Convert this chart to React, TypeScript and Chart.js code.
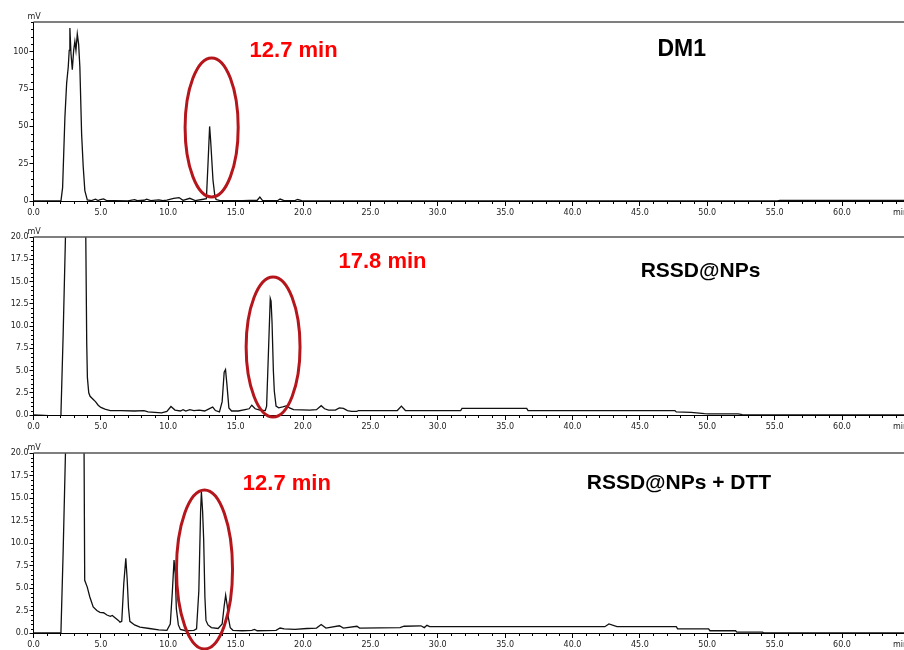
import React, { useEffect, useRef } from 'react';
import { Chart, registerables } from 'chart.js';

Chart.register(...registerables);

// ---------- data (retention time in min, signal in mV) ----------
const dm1Time = [0, 1.0, 2.0, 2.04, 2.16, 2.33, 2.46, 2.58, 2.65, 2.70, 2.78, 2.88, 2.98, 3.07, 3.15, 3.25, 3.35, 3.44, 3.57, 3.69, 3.81, 3.99, 4.3, 4.6, 4.8, 4.95, 5.2, 5.45, 6.0, 7.0, 7.5, 7.7, 8.2, 8.4, 8.7, 9.3, 9.6, 9.9, 10.4, 10.8, 11.1, 11.6, 12.0, 12.5, 12.83, 12.95, 13.07, 13.15, 13.32, 13.45, 13.55, 13.8, 14.5, 15.5, 16.6, 16.8, 17.0, 18.1, 18.3, 18.6, 19.4, 19.6, 19.9, 20.5, 55.2, 55.4, 64.6];
const dm1Signal = [0, 0, 0, 0.3, 9, 56, 79, 90, 101, 116, 99, 88, 101, 107, 101, 112, 105, 90, 45, 23, 7, 0.7, 0.3, 1.2, 0.3, 1.0, 1.4, 0.2, 0.3, 0.1, 0.9, 0.2, 0.5, 1.2, 0.3, 0.8, 0.2, 0.6, 1.8, 2.3, 0.4, 1.8, 0.3, 1.0, 1.5, 25, 50, 40, 14, 4, 1, 0.4, 0.2, 0.2, 0.5, 2.6, 0.3, 0.2, 1.3, 0.2, 0.3, 1.0, 0.3, 0, 0, 0.4, 0.4];

const npTime = [0, 0.8, 1.5, 2.0, 2.04, 2.2, 2.38, 2.6, 2.9, 3.2, 3.5, 3.75, 3.88, 3.95, 4.0, 4.1, 4.2, 4.4, 4.6, 4.8, 5.0, 5.3, 5.7, 6.5, 7.5, 8.2, 8.5, 9.0, 9.5, 9.9, 10.2, 10.5, 10.9, 11.1, 11.3, 11.6, 11.9, 12.3, 12.7, 13.1, 13.3, 13.5, 13.8, 14.0, 14.15, 14.25, 14.35, 14.5, 14.7, 15.2, 15.7, 16.0, 16.2, 16.45, 16.8, 17.2, 17.3, 17.43, 17.57, 17.63, 17.7, 17.8, 17.87, 18.0, 18.2, 18.5, 18.8, 19.0, 19.3, 20.5, 21.0, 21.35, 21.6, 21.9, 22.4, 22.7, 23.0, 23.3, 23.6, 24.0, 24.1, 27.0, 27.3, 27.6, 31.7, 31.8, 36.6, 36.7, 47.6, 47.7, 48.8, 49.8, 50.1, 52.3, 52.6, 53.6, 55.0, 64.6];
const npSignal = [0, -0.05, -0.1, -0.05, 0.3, 9, 20.5, 45, 90, 105, 80, 40, 20, 8, 4.2, 2.5, 2.1, 1.8, 1.5, 1.1, 0.85, 0.65, 0.5, 0.5, 0.45, 0.5, 0.35, 0.3, 0.25, 0.4, 0.95, 0.55, 0.45, 0.6, 0.45, 0.6, 0.5, 0.55, 0.45, 0.75, 0.9, 0.5, 0.35, 1.5, 4.8, 5.1, 3.5, 0.8, 0.45, 0.45, 0.6, 0.7, 1.1, 0.7, 0.55, 0.5, 1.0, 6.8, 13.1, 12.8, 10.5, 5.0, 2.7, 1.0, 0.8, 0.9, 1.05, 0.8, 0.6, 0.55, 0.6, 1.05, 0.7, 0.55, 0.55, 0.8, 0.75, 0.5, 0.4, 0.4, 0.5, 0.5, 1.0, 0.5, 0.5, 0.75, 0.75, 0.5, 0.5, 0.35, 0.3, 0.15, 0.12, 0.12, 0.05, 0, 0, 0];

const dttTime = [0, 2.0, 2.04, 2.2, 2.38, 2.6, 3.0, 3.3, 3.55, 3.72, 3.8, 3.99, 4.18, 4.43, 4.7, 4.93, 5.2, 5.45, 5.7, 5.85, 6.05, 6.3, 6.42, 6.55, 6.7, 6.85, 6.95, 7.05, 7.15, 7.5, 7.9, 8.6, 9.3, 9.9, 10.15, 10.3, 10.43, 10.52, 10.6, 10.75, 10.9, 11.3, 11.9, 12.1, 12.27, 12.4, 12.46, 12.55, 12.63, 12.72, 12.8, 12.95, 13.2, 13.7, 14.0, 14.15, 14.26, 14.38, 14.46, 14.6, 14.8, 15.5, 16.2, 16.4, 16.6, 18.0, 18.3, 18.6, 19.4, 20.3, 21.0, 21.35, 21.7, 22.7, 23.0, 24.0, 24.2, 27.2, 27.5, 28.75, 29.0, 29.2, 29.4, 42.4, 42.7, 43.3, 47.7, 47.8, 50.1, 50.2, 52.1, 52.2, 54.1, 54.2, 64.6];
const dttSignal = [0, 0, 0.3, 9, 20.5, 60, 100, 90, 40, 30, 5.85, 5.1, 4.0, 2.9, 2.5, 2.3, 2.25, 2.0, 1.85, 1.95, 1.7, 1.4, 1.2, 1.3, 5.5, 8.3, 6.0, 2.8, 1.3, 0.9, 0.65, 0.5, 0.35, 0.3, 1.0, 4.5, 8.1, 6.5, 2.7, 0.9, 0.4, 0.25, 0.3, 0.45, 4.7, 13.5, 15.7, 13.5, 10.3, 4.0, 1.4, 0.9, 0.6, 0.5, 1.0, 3.0, 4.2, 3.0, 1.7, 0.6, 0.3, 0.25, 0.3, 0.4, 0.25, 0.3, 0.55, 0.45, 0.4, 0.5, 0.55, 0.95, 0.55, 0.8, 0.55, 0.75, 0.55, 0.6, 0.75, 0.8, 0.6, 0.85, 0.7, 0.7, 1.0, 0.7, 0.7, 0.45, 0.45, 0.25, 0.25, 0.1, 0.1, 0, 0];

const xTickLabels = ['0.0', '5.0', '10.0', '15.0', '20.0', '25.0', '30.0', '35.0', '40.0', '45.0', '50.0', '55.0', '60.0'];

const X_MAX = 64.6;

type Note = { label: string; t: number; v: number; color: string; size: number };
type Ring = { t: number; v: number; dt: number; dv: number };
type Panel = {
  time: number[];
  signal: number[];
  yMax: number;
  yStep: number;
  yMinor: number;
  yDecimals: number;
  top: number;
  height: number;
  padTop: number;
  xAxisHeight: number;
  notes: Note[];
  ring: Ring;
};

const RED = '#ff0000';
const panels: Panel[] = [
  {
    time: dm1Time, signal: dm1Signal, yMax: 120, yStep: 25, yMinor: 5, yDecimals: 0,
    top: 0, height: 226, padTop: 22, xAxisHeight: 25,
    notes: [
      { label: '12.7 min', t: 19.3, v: 100.6, color: RED, size: 22 },
      { label: 'DM1', t: 48.1, v: 101.2, color: '#000', size: 23 },
    ],
    ring: { t: 13.22, v: 49.3, dt: 1.97, dv: 46.6 },
  },
  {
    time: npTime, signal: npSignal, yMax: 20, yStep: 2.5, yMinor: 0.5, yDecimals: 1,
    top: 226, height: 216, padTop: 11, xAxisHeight: 27,
    notes: [
      { label: '17.8 min', t: 25.9, v: 17.2, color: RED, size: 22 },
      { label: 'RSSD@NPs', t: 49.5, v: 16.2, color: '#000', size: 21 },
    ],
    ring: { t: 17.78, v: 7.64, dt: 2.0, dv: 7.87 },
  },
  {
    time: dttTime, signal: dttSignal, yMax: 20, yStep: 2.5, yMinor: 0.5, yDecimals: 1,
    top: 442, height: 208, padTop: 11, xAxisHeight: 17,
    notes: [
      { label: '12.7 min', t: 18.8, v: 16.6, color: RED, size: 22 },
      { label: 'RSSD@NPs + DTT', t: 47.9, v: 16.6, color: '#000', size: 21 },
    ],
    ring: { t: 12.69, v: 7.06, dt: 2.08, dv: 8.83 },
  },
];

const isMultiple = (v: number, step: number) => Math.abs(v / step - Math.round(v / step)) < 1e-6;

const decorPlugin = (p: Panel) => ({
  id: 'decor',
  afterDraw(chart: any) {
    const { ctx, chartArea: a, scales } = chart;
    const x = scales.x;
    const y = scales.y;
    ctx.save();
    // top frame line
    ctx.strokeStyle = '#555';
    ctx.lineWidth = 1.5;
    ctx.beginPath();
    ctx.moveTo(a.left, a.top);
    ctx.lineTo(chart.width, a.top);
    ctx.stroke();
    // minor ticks
    ctx.strokeStyle = '#000';
    ctx.lineWidth = 1;
    ctx.beginPath();
    for (let t = 0; t <= X_MAX; t += 1) {
      if (isMultiple(t, 5)) continue;
      const px = Math.round(x.getPixelForValue(t)) + 0.5;
      ctx.moveTo(px, a.bottom);
      ctx.lineTo(px, a.bottom + 3);
    }
    const n = Math.round(p.yMax / p.yMinor);
    for (let k = 0; k <= n; k++) {
      const v = k * p.yMinor;
      if (isMultiple(v, p.yStep)) continue;
      const py = Math.round(y.getPixelForValue(v)) + 0.5;
      ctx.moveTo(a.left - 2.5, py);
      ctx.lineTo(a.left, py);
    }
    ctx.stroke();
    // unit labels
    ctx.fillStyle = '#222';
    ctx.font = '8px "DejaVu Sans"';
    ctx.textAlign = 'left';
    ctx.textBaseline = 'bottom';
    ctx.fillText('mV', a.left - 6, a.top - 1);
    ctx.textBaseline = 'middle';
    ctx.fillText('min', 893, a.bottom + 12);
    // highlight ring
    const r = p.ring;
    const cx = x.getPixelForValue(r.t);
    const cy = y.getPixelForValue(r.v);
    const rx = x.getPixelForValue(r.t + r.dt) - cx;
    const ry = cy - y.getPixelForValue(r.v + r.dv);
    ctx.strokeStyle = '#b5161c';
    ctx.lineWidth = 3;
    ctx.beginPath();
    ctx.ellipse(cx, cy, rx, ry, 0, 0, Math.PI * 2);
    ctx.stroke();
    // labels
    ctx.textAlign = 'center';
    ctx.textBaseline = 'middle';
    for (const nt of p.notes) {
      ctx.font = `bold ${nt.size}px "Liberation Sans", Arial, sans-serif`;
      ctx.fillStyle = nt.color;
      ctx.fillText(nt.label, x.getPixelForValue(nt.t), y.getPixelForValue(nt.v));
    }
    ctx.restore();
  },
});

function PanelChart({ p }: { p: Panel }) {
  const ref = useRef<HTMLCanvasElement | null>(null);
  useEffect(() => {
    if (!ref.current) return;
    const points = p.time.map((t, i) => ({ x: t, y: p.signal[i] }));
    const tickFont = { family: '"DejaVu Sans", sans-serif', size: 8 };
    const chart = new Chart(ref.current, {
      type: 'line',
      data: {
        datasets: [
          {
            data: points,
            borderColor: '#111',
            borderWidth: 1.3,
            pointRadius: 0,
            tension: 0,
            fill: false,
          },
        ],
      },
      options: {
        animation: false,
        responsive: false,
        maintainAspectRatio: false,
        layout: { padding: { top: p.padTop, left: 0, right: 0, bottom: 0 } },
        plugins: { legend: { display: false }, tooltip: { enabled: false } },
        scales: {
          x: {
            type: 'linear',
            min: 0,
            max: X_MAX,
            afterBuildTicks: (s: any) => {
              s.ticks = s.ticks.filter((t: any) => isMultiple(t.value, 5));
            },
            afterFit: (s: any) => {
              s.height = p.xAxisHeight;
            },
            ticks: {
              stepSize: 5,
              autoSkip: false,
              maxRotation: 0,
              padding: 2,
              color: '#222',
              font: tickFont,
              callback: (v: any) => xTickLabels[Math.round(Number(v) / 5)] ?? '',
            },
            grid: { drawOnChartArea: false, tickLength: 5, tickColor: '#000' },
            border: { color: '#000', width: 1 },
          },
          y: {
            type: 'linear',
            min: 0,
            max: p.yMax,
            afterBuildTicks: (s: any) => {
              s.ticks = s.ticks.filter((t: any) => isMultiple(t.value, p.yStep));
            },
            afterFit: (s: any) => {
              s.width = 33.5;
            },
            ticks: {
              stepSize: p.yStep,
              autoSkip: false,
              padding: 1,
              color: '#222',
              font: tickFont,
              callback: (v: any) => Number(v).toFixed(p.yDecimals),
            },
            grid: { drawOnChartArea: false, tickLength: 4, tickColor: '#000' },
            border: { color: '#000', width: 1 },
          },
        },
      },
      plugins: [decorPlugin(p)],
    } as any);
    return () => chart.destroy();
  }, [p]);
  return (
    <canvas
      ref={ref}
      width={904}
      height={p.height}
      style={{ position: 'absolute', left: 0, top: p.top, width: 904, height: p.height }}
    />
  );
}

export default function App() {
  return (
    <div style={{ position: 'absolute', left: 0, top: 0, width: 904, height: 650, background: '#fff', overflow: 'hidden' }}>
      {panels.map((p, i) => (
        <PanelChart key={i} p={p} />
      ))}
    </div>
  );
}
